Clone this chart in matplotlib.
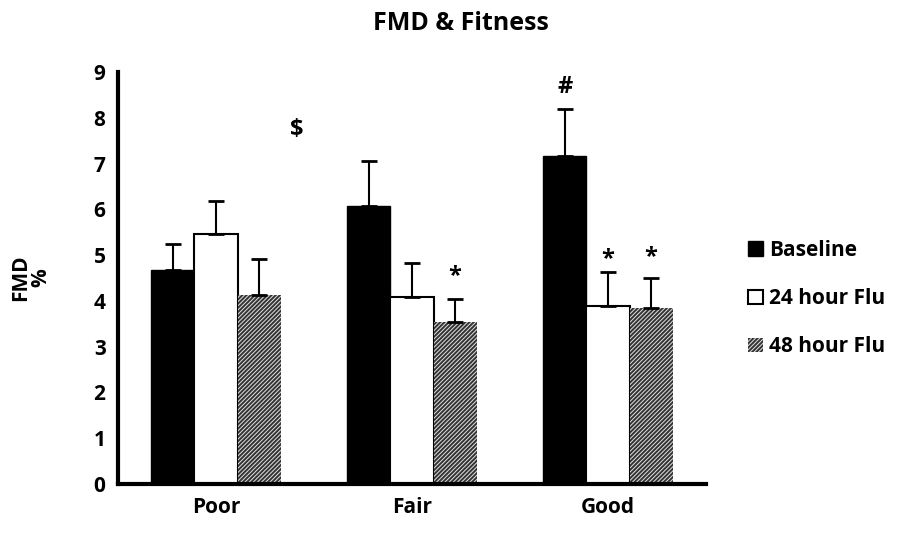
import numpy as np
import matplotlib.pyplot as plt

plt.rcParams['font.family'] = ['Open Sans', 'DejaVu Sans']
plt.rcParams['font.weight'] = 'bold'
plt.rcParams['hatch.linewidth'] = 1.4

groups = ['Poor', 'Fair', 'Good']
series = ['Baseline', '24 hour Flu', '48 hour Flu']
baseline = [4.67, 6.08, 7.17]
flu24 = [5.47, 4.08, 3.89]
flu48 = [4.12, 3.54, 3.85]
err_baseline = [0.57, 0.97, 1.02]
err_flu24 = [0.71, 0.74, 0.74]
err_flu48 = [0.80, 0.50, 0.66]

# significance marks: (x position, text, y)
marks = [(0.41, '$', 7.73), (1.78, '#', 8.67),
         (1.22, '*', 4.55), (2.0, '*', 4.92), (2.22, '*', 4.95)]

fig = plt.figure(figsize=(9.05, 5.35), dpi=100)
ax = fig.add_axes([0.1304, 0.0953, 0.6497, 0.7702])

x = np.arange(len(groups))
w = 0.22
styles = [dict(color='black', edgecolor='black'),
          dict(color='white', edgecolor='black', linewidth=1.5),
          dict(color='#e0e0e0', edgecolor='#333333', hatch='////////', linewidth=0)]
vals = [baseline, flu24, flu48]
errs = [err_baseline, err_flu24, err_flu48]
for i in range(3):
    xs = x + (i - 1) * w
    ax.bar(xs, vals[i], w, label=series[i], zorder=2, **styles[i])
    ax.errorbar(xs, vals[i], yerr=[np.zeros(3), errs[i]], fmt='none',
                ecolor='black', elinewidth=1.5, capsize=5.5, capthick=2, zorder=3)

for xm, t, y in marks:
    ax.text(xm, y, t, ha='center', va='center', fontsize=17, fontweight='bold')

ax.set_xlim(-0.5, 2.5)
ax.set_ylim(0, 9)
ax.set_yticks(range(10))
ax.set_xticks(x)
ax.set_xticklabels(groups, fontsize=15, fontweight='bold')
ax.tick_params(axis='both', length=0, labelsize=15, pad=9)
for lab in ax.get_yticklabels():
    lab.set_fontweight('bold')
for s in ['top', 'right']:
    ax.spines[s].set_visible(False)
for s in ['left', 'bottom']:
    ax.spines[s].set_linewidth(3)

ax.set_ylabel('FMD\n%', fontsize=15, fontweight='bold', labelpad=30, linespacing=1.0)
ax.set_title('FMD & Fitness', fontsize=18, fontweight='bold', pad=30, x=0.583)

ax.legend(loc='center left', bbox_to_anchor=(1.04, 0.45), frameon=False,
          prop={'size': 15, 'weight': 'bold'}, labelspacing=1.3,
          handlelength=0.7, handleheight=0.7, handletextpad=0.3)

fig.savefig('out.png', dpi=100)
